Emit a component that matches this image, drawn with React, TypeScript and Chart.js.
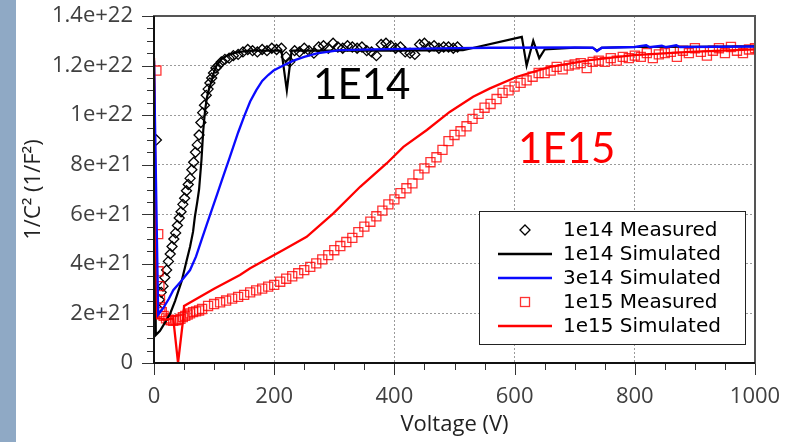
import React, { useEffect, useRef } from 'react';
import { Chart, registerables } from 'chart.js';

Chart.register(...registerables);

// Values: x = Voltage (V), y = 1/C^2 in units of 1e21 (1/F^2)
const xTickLabels = ['0', '200', '400', '600', '800', '1000'];
const yTickLabels = ['0', '2e+21', '4e+21', '6e+21', '8e+21', '1e+22', '1.2e+22', '1.4e+22'];
const seriesNames = ['1e14 Measured', '1e14 Simulated', '3e14 Simulated', '1e15 Measured', '1e15 Simulated'];
const annotationLabels = ['1E14', '1E15'];

const measured1e14: [number, number][] = [
  [4, 9.0], [6, 2.2], [9, 2.55], [12, 2.85], [15, 3.1], [18, 3.45], [21, 3.75], [24, 4.1], [27, 4.4],
  [30, 4.7], [33, 5.0], [36, 5.25], [39, 5.55], [42, 5.85], [45, 6.1], [48, 6.4], [51, 6.65], [54, 6.95],
  [57, 7.2], [60, 7.45], [63, 7.8], [66, 8.1], [69, 8.5], [72, 8.8], [75, 9.2], [78, 9.7], [81, 10.1],
  [84, 10.4], [87, 10.8], [90, 11.05], [93, 11.3], [96, 11.5], [99, 11.7], [103, 11.9], [107, 12.0],
  [112, 12.15], [118, 12.25], [125, 12.3], [132, 12.4], [140, 12.45], [148, 12.55], [156, 12.65],
  [164, 12.6], [172, 12.55], [180, 12.65], [188, 12.6], [196, 12.7], [204, 12.65], [212, 12.7], [220, 12.35],
  [226, 12.15], [234, 12.6], [242, 12.55], [250, 12.7], [258, 12.6], [266, 12.5], [274, 12.75], [282, 12.8],
  [290, 12.7], [298, 12.9], [306, 12.75], [314, 12.7], [322, 12.8], [330, 12.75], [338, 12.7], [346, 12.75],
  [354, 12.6], [362, 12.55], [370, 12.4], [378, 12.85], [386, 12.9], [394, 12.8], [402, 12.7], [410, 12.75],
  [418, 12.55], [426, 12.5], [434, 12.45], [442, 12.85], [450, 12.9], [458, 12.75], [466, 12.8], [474, 12.7],
  [482, 12.75], [490, 12.75], [498, 12.7], [505, 12.75],
];

const simulated1e14: [number, number][] = [
  [0, 12.2], [3, 1.13], [10, 1.3], [20, 1.7], [27, 2.0], [35, 2.5], [46, 3.3], [53, 4.0], [60, 4.69],
  [65, 5.3], [68, 5.9], [72, 6.5], [75, 7.0], [79, 8.2], [82, 9.4], [85, 10.2], [88, 10.7], [92, 11.1],
  [96, 11.4], [100, 11.75], [104, 12.0], [112, 12.25], [121, 12.4], [132, 12.5], [143, 12.55], [160, 12.6],
  [212, 12.6], [221, 11.0], [229, 12.6], [400, 12.6], [514, 12.62], [612, 13.16], [620, 12.0], [631, 13.0],
  [641, 12.3], [650, 12.65], [700, 12.72], [730, 12.72], [737, 12.6], [745, 12.72], [800, 12.75],
  [900, 12.76], [1000, 12.78],
];

const simulated3e14: [number, number][] = [
  [0, 12.2], [7, 1.95], [15, 2.2], [25, 2.6], [32, 2.94], [45, 3.3], [60, 3.75], [70, 4.3], [79, 4.96],
  [88, 5.6], [96, 6.17], [105, 6.8], [113, 7.38], [126, 8.3], [140, 9.3], [150, 9.95], [160, 10.55],
  [170, 11.0], [180, 11.38], [190, 11.62], [199, 11.8], [215, 12.0], [232, 12.2], [250, 12.35], [271, 12.49],
  [309, 12.62], [365, 12.65], [476, 12.69], [560, 12.72], [700, 12.73], [730, 12.72], [737, 12.58],
  [745, 12.72], [800, 12.75], [819, 12.82], [825, 12.74], [845, 12.8], [852, 12.74], [869, 12.82],
  [875, 12.75], [1000, 12.77],
];

const measured1e15: [number, number][] = [
  [4, 11.8], [7, 5.2], [7.5, 3.7], [9, 3.1], [10, 2.55], [10.5, 2.25], [13, 2.05], [16, 1.9], [20, 1.8],
  [24, 1.75], [28, 1.72], [32, 1.7], [36, 1.72], [40, 1.74], [44, 1.78], [48, 1.85], [52, 1.9], [56, 1.95],
  [60, 2.0], [65, 2.05], [70, 2.08], [75, 2.12], [80, 2.18], [90, 2.3], [100, 2.38], [110, 2.45], [120, 2.52],
  [130, 2.6], [140, 2.67], [150, 2.75], [160, 2.85], [170, 2.93], [180, 3.0], [190, 3.08], [200, 3.15],
  [210, 3.28], [220, 3.4], [230, 3.5], [240, 3.62], [250, 3.75], [260, 3.88], [270, 4.02], [280, 4.18],
  [290, 4.35], [300, 4.55], [310, 4.72], [320, 4.88], [330, 5.05], [340, 5.28], [350, 5.5], [360, 5.7],
  [370, 5.92], [380, 6.15], [390, 6.4], [400, 6.6], [410, 6.85], [420, 7.05], [430, 7.25], [440, 7.6],
  [450, 7.85], [460, 8.1], [470, 8.3], [480, 8.6], [490, 8.95], [500, 9.2], [510, 9.35], [520, 9.55],
  [530, 9.85], [540, 10.05], [550, 10.3], [560, 10.45], [570, 10.65], [580, 10.9], [590, 11.0], [600, 11.15],
  [610, 11.3], [620, 11.4], [630, 11.55], [640, 11.7], [650, 11.7], [660, 11.8], [670, 11.95], [680, 11.85],
  [690, 12.0], [700, 12.05], [710, 12.1], [720, 11.9], [730, 12.15], [740, 12.2], [750, 12.15], [760, 12.3],
  [770, 12.2], [780, 12.35], [790, 12.3], [800, 12.4], [810, 12.35], [820, 12.5], [830, 12.3], [840, 12.45],
  [850, 12.5], [860, 12.55], [870, 12.35], [880, 12.6], [890, 12.5], [900, 12.7], [910, 12.55], [920, 12.4],
  [930, 12.6], [940, 12.7], [950, 12.5], [960, 12.75], [970, 12.6], [980, 12.5], [990, 12.65], [1000, 12.7],
];

const simulated1e15: [number, number][] = [
  [0, 12.3], [5, 1.8], [10, 1.8], [20, 1.75], [32, 1.8], [40, 0], [49, 1.87], [50, 2.3], [100, 3.0],
  [143, 3.55], [160, 3.82], [215, 4.56], [254, 5.09], [298, 6.03], [343, 7.11], [387, 8.05], [415, 8.72],
  [454, 9.4], [492, 10.13], [531, 10.74], [559, 11.08], [604, 11.55], [659, 11.95], [725, 12.22],
  [798, 12.42], [892, 12.55], [1000, 12.65],
];

// annotation anchors in data units (voltage, 1e21)
const annotationAnchors: [number, number][] = [[264.6, 10.65], [605.7, 8.07]];
const annotationColors = ['#000000', '#ff0000'];

const toXY = (arr: [number, number][]) => arr.map(([x, y]) => ({ x, y }));

const TICK_FONT = "'Open Sans', sans-serif";

const decorPlugin = {
  id: 'decor',
  afterDraw(chart: any) {
    const { ctx, chartArea: a, scales } = chart;
    const xs = scales.x;
    const ys = scales.y;
    ctx.save();

    // tick marks
    ctx.strokeStyle = '#333';
    ctx.lineWidth = 1;
    ctx.beginPath();
    for (let i = 0; i <= 28; i++) {
      const v = i * 0.5;
      const y = Math.round(ys.getPixelForValue(v)) + 0.5;
      const len = i % 4 === 0 ? 12 : 7;
      ctx.moveTo(a.left - len, y);
      ctx.lineTo(a.left, y);
    }
    for (let i = 0; i <= 20; i++) {
      const v = i * 50;
      const x = Math.round(xs.getPixelForValue(v)) + 0.5;
      const len = i % 4 === 0 ? 12 : 7;
      ctx.moveTo(x, a.bottom);
      ctx.lineTo(x, a.bottom + len);
    }
    ctx.stroke();

    // frame
    ctx.lineWidth = 2;
    ctx.strokeStyle = '#555';
    ctx.strokeRect(a.left, a.top, a.right - a.left, a.bottom - a.top);
    ctx.strokeStyle = '#111';
    ctx.beginPath();
    ctx.moveTo(a.left, a.top);
    ctx.lineTo(a.left, a.bottom);
    ctx.lineTo(a.right, a.bottom);
    ctx.stroke();

    // annotations
    ctx.font = "42px Lato, 'Open Sans', sans-serif";
    ctx.textAlign = 'left';
    ctx.textBaseline = 'alphabetic';
    annotationLabels.forEach((t, i) => {
      ctx.fillStyle = annotationColors[i];
      ctx.fillText(t, xs.getPixelForValue(annotationAnchors[i][0]), ys.getPixelForValue(annotationAnchors[i][1]));
    });

    // axis titles
    ctx.fillStyle = '#222';
    ctx.font = `22px ${TICK_FONT}`;
    ctx.textAlign = 'center';
    ctx.textBaseline = 'middle';
    ctx.fillText('Voltage (V)', (a.left + a.right) / 2, 425);
    ctx.save();
    ctx.translate(34, (a.top + a.bottom) / 2);
    ctx.rotate(-Math.PI / 2);
    ctx.fillText('1/C\u00B2 (1/F\u00B2)', 0, 0);
    ctx.restore();

    // legend
    const lx = 479, ly = 211, lw = 266, lh = 133;
    ctx.fillStyle = '#fff';
    ctx.fillRect(lx, ly, lw, lh);
    ctx.strokeStyle = '#222';
    ctx.lineWidth = 1;
    ctx.strokeRect(lx + 0.5, ly + 0.5, lw, lh);
    ctx.font = "20px 'DejaVu Sans', sans-serif";
    ctx.textAlign = 'left';
    ctx.textBaseline = 'middle';
    chart.data.datasets.forEach((ds: any, i: number) => {
      const cy = ly + 19 + i * 24;
      const cx = 525;
      if (ds.showLine) {
        ctx.strokeStyle = ds.borderColor;
        ctx.lineWidth = 2.5;
        ctx.beginPath();
        ctx.moveTo(498, cy);
        ctx.lineTo(552, cy);
        ctx.stroke();
      } else if (ds.pointStyle === 'rectRot') {
        ctx.strokeStyle = ds.borderColor;
        ctx.lineWidth = 1.3;
        ctx.beginPath();
        ctx.moveTo(cx, cy - 5);
        ctx.lineTo(cx + 5, cy);
        ctx.lineTo(cx, cy + 5);
        ctx.lineTo(cx - 5, cy);
        ctx.closePath();
        ctx.stroke();
      } else {
        ctx.strokeStyle = ds.borderColor;
        ctx.lineWidth = 1.3;
        ctx.strokeRect(cx - 4.5, cy - 4.5, 9, 9);
      }
      ctx.fillStyle = '#000';
      ctx.fillText(ds.label, 563, cy + 1);
    });

    ctx.restore();
  },
};

export default function App() {
  const ref = useRef<HTMLCanvasElement>(null);

  useEffect(() => {
    const canvas = ref.current;
    if (!canvas) return;
    const chart = new Chart(canvas, {
      type: 'scatter',
      data: {
        datasets: [
          {
            label: seriesNames[0],
            data: toXY(measured1e14),
            showLine: false,
            pointStyle: 'rectRot',
            pointRadius: 5,
            borderColor: '#000',
            backgroundColor: 'rgba(0,0,0,0)',
            borderWidth: 1.3,
            order: 5,
          },
          {
            label: seriesNames[1],
            data: toXY(simulated1e14),
            showLine: true,
            pointRadius: 0,
            borderColor: '#000',
            borderWidth: 2.2,
            order: 3,
          },
          {
            label: seriesNames[2],
            data: toXY(simulated3e14),
            showLine: true,
            pointRadius: 0,
            borderColor: '#0a0aff',
            borderWidth: 2.3,
            order: 1,
          },
          {
            label: seriesNames[3],
            data: toXY(measured1e15),
            showLine: false,
            pointStyle: 'rect',
            pointRadius: 6.4,
            borderColor: 'rgba(255,0,0,0.8)',
            backgroundColor: 'rgba(0,0,0,0)',
            borderWidth: 1.3,
            order: 4,
          },
          {
            label: seriesNames[4],
            data: toXY(simulated1e15),
            showLine: true,
            pointRadius: 0,
            borderColor: '#ff0000',
            borderWidth: 2.3,
            order: 2,
          },
        ] as any,
      },
      options: {
        responsive: false,
        animation: false,
        devicePixelRatio: 1,
        events: [],
        layout: { padding: { top: 16, right: 37, left: 0, bottom: 0 } },
        plugins: { legend: { display: false }, tooltip: { enabled: false } },
        scales: {
          x: {
            type: 'linear',
            min: 0,
            max: 1000,
            afterFit: (s: any) => {
              s.height = 79;
              s.paddingLeft = 0;
              s.paddingRight = 0;
            },
            ticks: {
              stepSize: 200,
              autoSkip: false,
              maxRotation: 0,
              padding: 21,
              color: '#404040',
              font: { family: TICK_FONT, size: 22 },
              callback: (_v: any, i: number) => xTickLabels[i],
            },
            grid: { color: '#9a9a9a', lineWidth: 1, drawTicks: false },
            border: { display: false, dash: [2, 2] },
          },
          y: {
            type: 'linear',
            min: 0,
            max: 14,
            afterFit: (s: any) => {
              s.width = 154;
              s.paddingTop = 0;
              s.paddingBottom = 0;
            },
            ticks: {
              stepSize: 2,
              autoSkip: false,
              padding: 21,
              color: '#404040',
              font: { family: TICK_FONT, size: 22 },
              callback: (_v: any, i: number) => yTickLabels[i],
            },
            grid: { color: '#9a9a9a', lineWidth: 1, drawTicks: false },
            border: { display: false, dash: [2, 2] },
          },
        },
      } as any,
      plugins: [decorPlugin],
    });
    return () => chart.destroy();
  }, []);

  return (
    <div style={{ position: 'fixed', left: 0, top: 0, width: 792, height: 442, background: '#fff', overflow: 'hidden' }}>
      <div style={{ position: 'absolute', left: 0, top: 0, width: 16, height: 442, background: '#8fa9c5' }} />
      <canvas ref={ref} width={792} height={442} style={{ position: 'absolute', left: 0, top: 0, width: 792, height: 442 }} />
    </div>
  );
}
